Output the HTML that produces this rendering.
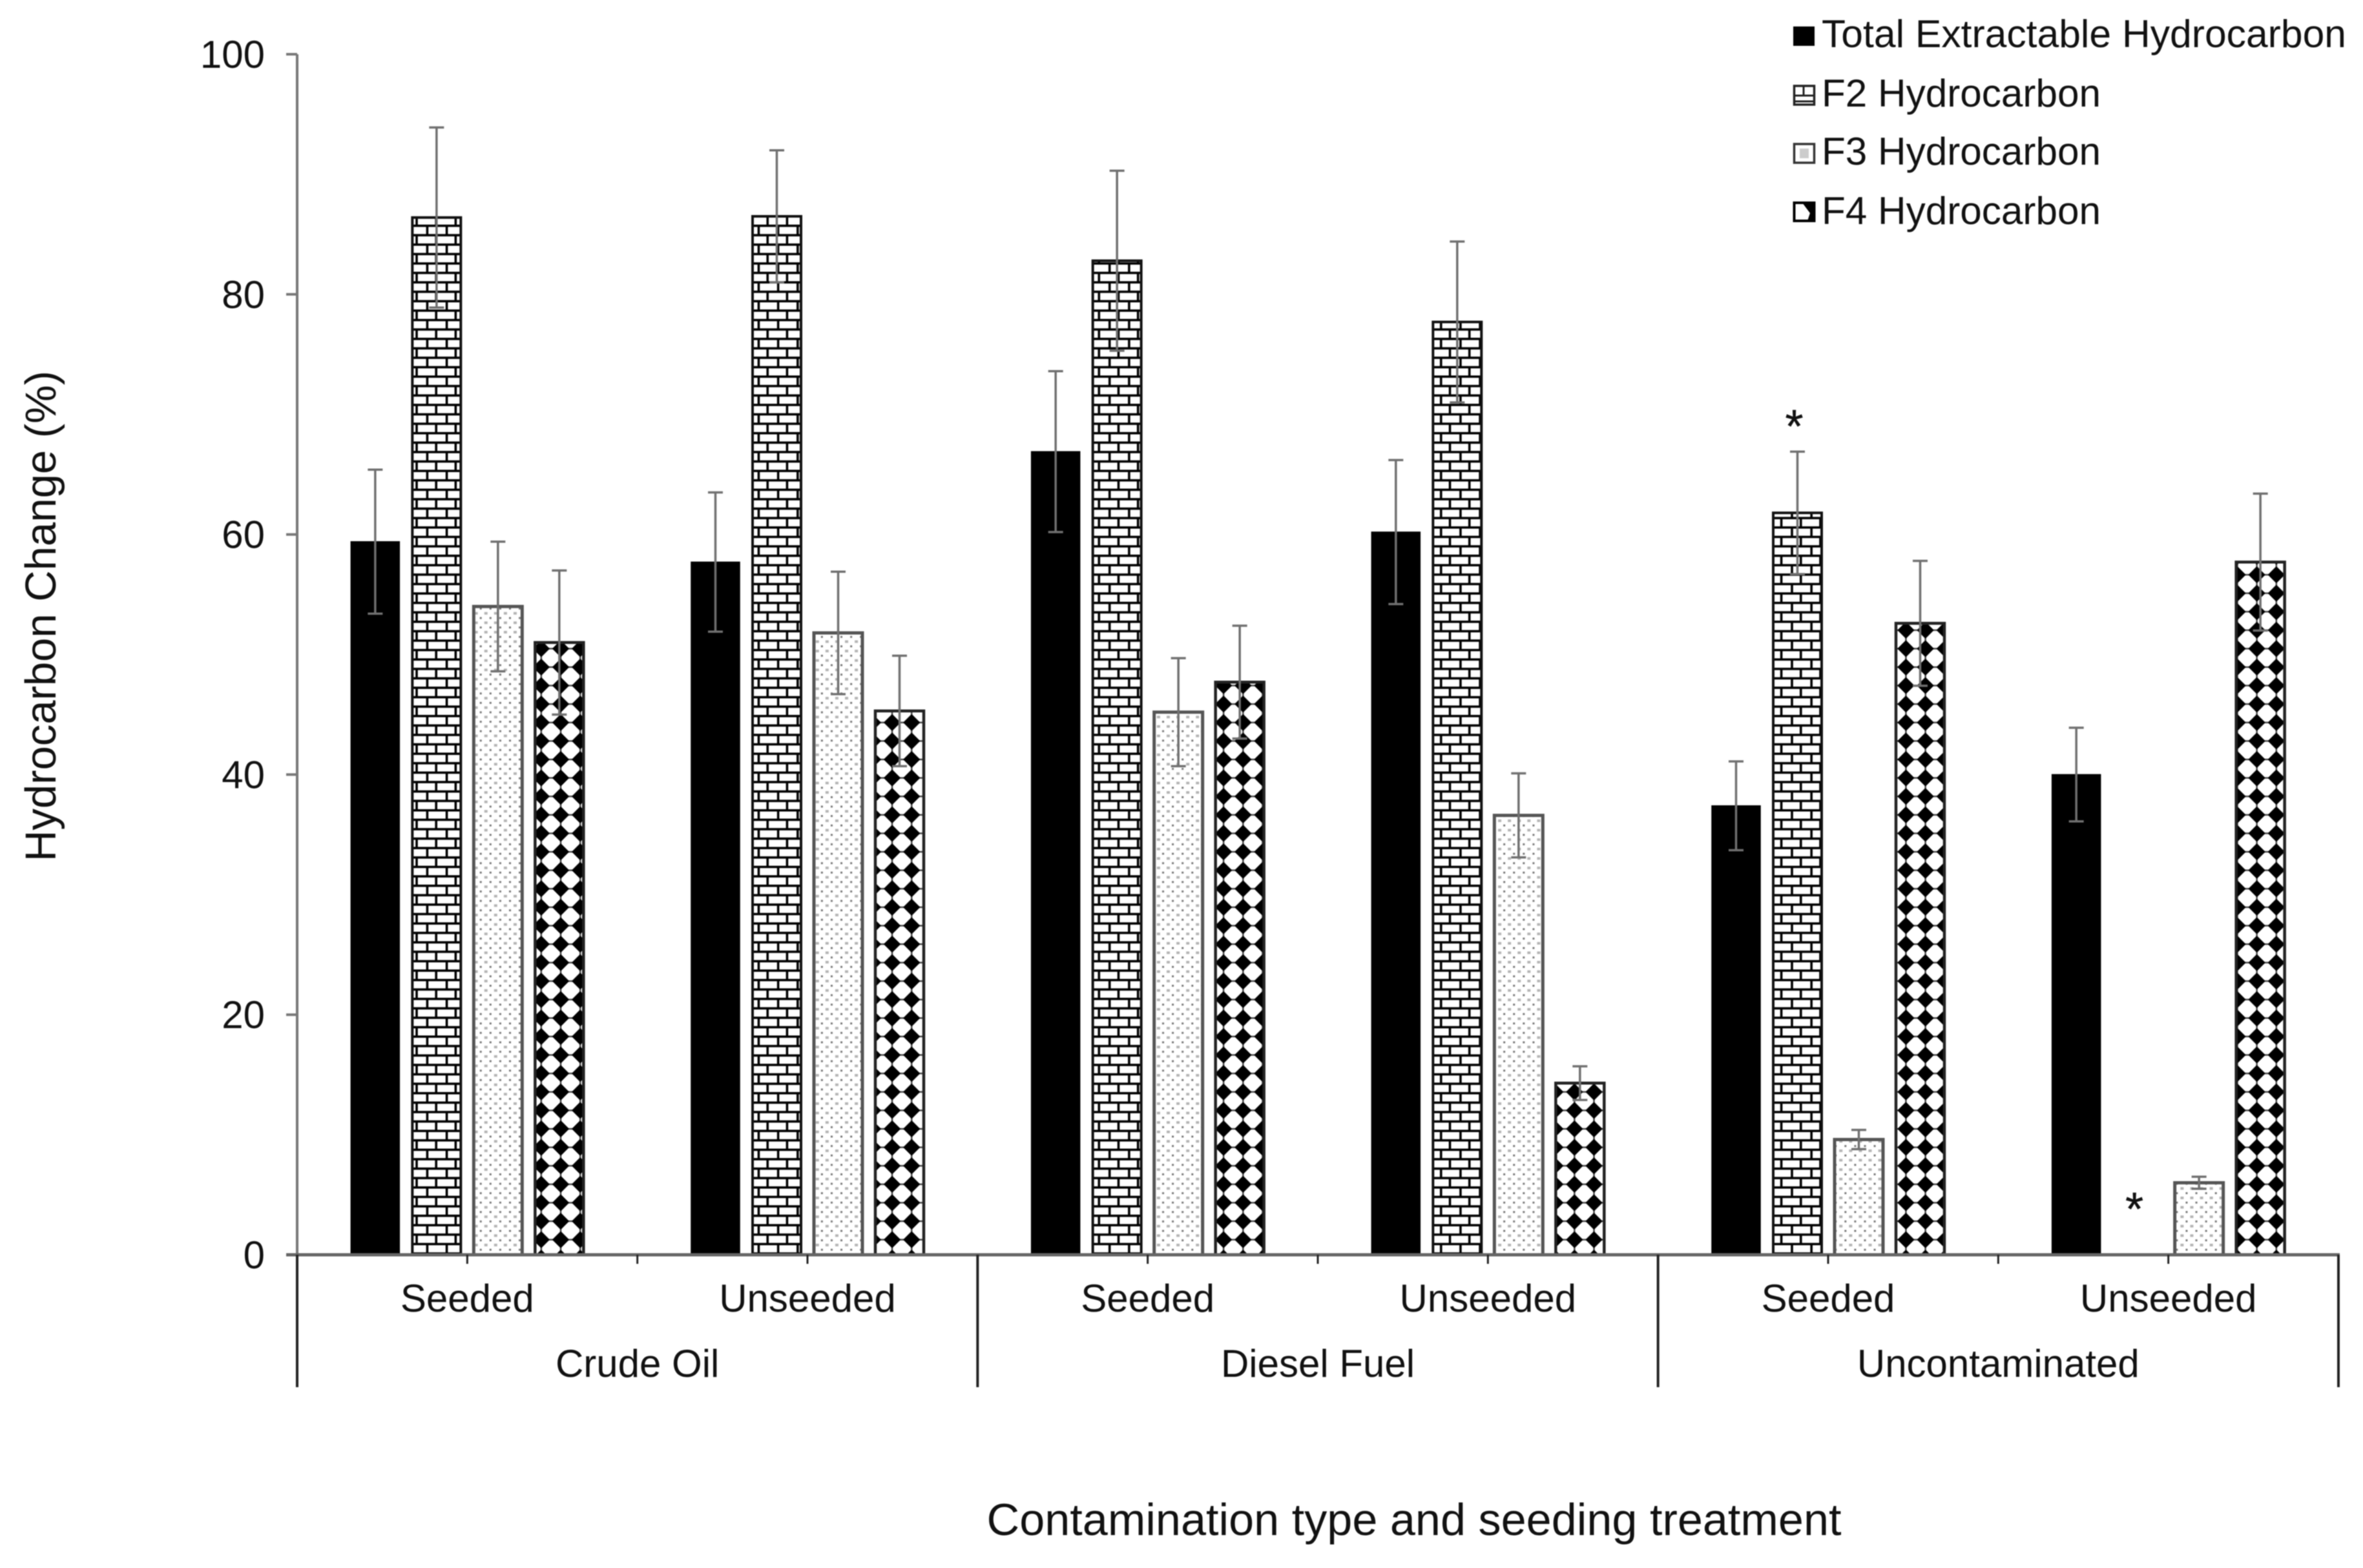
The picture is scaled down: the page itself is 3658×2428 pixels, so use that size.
<!DOCTYPE html>
<html lang="en">
<head>
<meta charset="utf-8">
<title>Hydrocarbon Change by Contamination Type</title>
<style>
html,body{margin:0;padding:0;background:#fff;}
#chart{display:block;width:3658px;height:2428px;filter:blur(0.9px);}
text{font-family:"Liberation Sans",sans-serif;fill:#111;}
</style>
</head>
<body>
<svg id="chart" xmlns="http://www.w3.org/2000/svg" width="3658" height="2428" viewBox="0 0 3658 2428">
  <defs>
    <pattern id="pat-brick" patternUnits="userSpaceOnUse" width="30.18" height="29.2" patternTransform="translate(645 1941)">
      <rect width="30.18" height="29.2" fill="#fff"/>
      <rect x="0" y="-1.8" width="30.18" height="3.6" fill="#000"/>
      <rect x="0" y="12.8" width="30.18" height="3.6" fill="#000"/>
      <rect x="0" y="27.4" width="30.18" height="3.6" fill="#000"/>
      <rect x="-1.8" y="0" width="3.6" height="14.6" fill="#000"/>
      <rect x="28.38" y="0" width="3.6" height="14.6" fill="#000"/>
      <rect x="14.6" y="14.6" width="3.6" height="14.6" fill="#000"/>
    </pattern>
    <pattern id="pat-dots" patternUnits="userSpaceOnUse" width="30.18" height="29.2" patternTransform="translate(759.3 1030)">
      <rect width="30.18" height="29.2" fill="#fff"/>
      <g fill="#777">
        <rect x="-1.5" y="-1.5" width="3" height="3"/><rect x="28.68" y="-1.5" width="3" height="3"/><rect x="13.6" y="-1.5" width="3" height="3"/>
        <rect x="-1.5" y="27.7" width="3" height="3"/><rect x="28.68" y="27.7" width="3" height="3"/><rect x="13.6" y="27.7" width="3" height="3"/>
        <rect x="-1.5" y="13.1" width="3" height="3"/><rect x="28.68" y="13.1" width="3" height="3"/><rect x="13.6" y="13.1" width="3" height="3"/>
      </g>
      <g fill="#b4b4b4">
        <rect x="5.5" y="5.3" width="5" height="4"/><rect x="20.6" y="5.3" width="5" height="4"/>
        <rect x="5.5" y="19.9" width="5" height="4"/><rect x="20.6" y="19.9" width="5" height="4"/>
      </g>
    </pattern>
    <pattern id="pat-diamond" patternUnits="userSpaceOnUse" width="30.18" height="28.6" patternTransform="translate(868 1033)">
      <rect width="30.18" height="28.6" fill="#fff"/>
      <g fill="#444">
        <rect x="0" y="-1.2" width="30.18" height="2.4"/>
        <rect x="0" y="27.4" width="30.18" height="2.4"/>
        <rect x="-1.2" y="0" width="2.4" height="28.6"/>
        <rect x="28.98" y="0" width="2.4" height="28.6"/>
      </g>
      <g fill="#000">
        <polygon points="0,-13.2 13.2,0 0,13.2 -13.2,0"/>
        <polygon points="30.18,-13.2 43.38,0 30.18,13.2 16.98,0"/>
        <polygon points="0,15.4 13.2,28.6 0,41.8 -13.2,28.6"/>
        <polygon points="30.18,15.4 43.38,28.6 30.18,41.8 16.98,28.6"/>
      </g>
    </pattern>
  </defs>

  <g id="bars"></g>
  <g id="errors"></g>
  <g id="axes"></g>
  <g id="stars"></g>

  <text x="86" y="954" font-size="67" text-anchor="middle" textLength="760" lengthAdjust="spacingAndGlyphs" transform="rotate(-90 86 954)">Hydrocarbon Change (%)</text>
  <text x="2189" y="2377" font-size="70" text-anchor="middle" textLength="1323" lengthAdjust="spacingAndGlyphs">Contamination type and seeding treatment</text>

  <g>
    <g>
      <rect x="2776" y="41" width="33" height="30" fill="#000"/>
      <text x="2820" y="73" font-size="60" textLength="812" lengthAdjust="spacingAndGlyphs">Total Extractable Hydrocarbon</text>
    </g>
    <g>
      <g>
        <rect x="2777.5" y="133" width="31" height="29" fill="#fff" stroke="#222" stroke-width="3.5"/>
        <path d="M2777 148H2809M2777 157H2809M2792 133V148" stroke="#222" stroke-width="3" fill="none"/>
      </g>
      <text x="2820" y="165" font-size="60" textLength="432" lengthAdjust="spacingAndGlyphs">F2 Hydrocarbon</text>
    </g>
    <g>
      <g>
        <rect x="2777.5" y="223" width="31" height="29" fill="#fff" stroke="#333" stroke-width="3.5"/>
        <rect x="2786" y="230" width="14" height="15" fill="#ccc"/>
      </g>
      <text x="2820" y="255" font-size="60" textLength="432" lengthAdjust="spacingAndGlyphs">F3 Hydrocarbon</text>
    </g>
    <g>
      <g>
        <rect x="2777.5" y="314" width="31" height="28" fill="#fff" stroke="#000" stroke-width="4"/>
        <polygon points="2790,314 2809,314 2809,342 2798,342 2802,330" fill="#000"/>
      </g>
      <text x="2820" y="347" font-size="60" textLength="432" lengthAdjust="spacingAndGlyphs">F4 Hydrocarbon</text>
    </g>
  </g>
</svg>
<script>
// ---- chart data ----
const treatments = ["Seeded", "Unseeded", "Seeded", "Unseeded", "Seeded", "Unseeded"];
const contaminants = ["Crude Oil", "Diesel Fuel", "Uncontaminated"];
const yTicks = [0, 20, 40, 60, 80, 100];
const totalValues = [59.4, 57.7, 66.9, 60.2, 37.4, 40.0];
const f2Values = [86.4, 86.5, 82.8, 77.7, 61.8, null];
const f3Values = [54.0, 51.8, 45.2, 36.6, 9.6, 6.0];
const f4Values = [51.0, 45.3, 47.7, 14.3, 52.6, 57.7];
const totalErrors = [6.0, 5.8, 6.7, 6.0, 3.7, 3.9];
const f2Errors = [7.5, 5.5, 7.5, 6.7, 5.1, null];
const f3Errors = [5.4, 5.1, 4.5, 3.5, 0.8, 0.5];
const f4Errors = [6.0, 4.6, 4.7, 1.4, 5.2, 5.7];
const starCategories = [4, 5];
const starValues = [69.6, 4.4];

const NS = "http://www.w3.org/2000/svg";
const AXIS_LEFT = 460, AXIS_RIGHT = 3620, BASE_Y = 1943, TOP_Y = 84;
const Y_MAX = 100;
const CAT_W = (AXIS_RIGHT - AXIS_LEFT) / treatments.length;
const BAR_W = 75, BAR_STEP = 95;

function yScale(v) { return BASE_Y - (v / Y_MAX) * (BASE_Y - TOP_Y); }
function catLeft(i) { return AXIS_LEFT + i * CAT_W; }
function barCenter(i, s) { return catLeft(i) + CAT_W / 2 + (s - 1.5) * BAR_STEP; }
function mk(tag, attrs, parent) {
  const el = document.createElementNS(NS, tag);
  for (const k in attrs) el.setAttribute(k, attrs[k]);
  parent.appendChild(el);
  return el;
}

const seriesValues = [totalValues, f2Values, f3Values, f4Values];
const seriesErrors = [totalErrors, f2Errors, f3Errors, f4Errors];
const seriesKeys = ["total", "f2", "f3", "f4"];
const seriesFills = ["#000", "url(#pat-brick)", "url(#pat-dots)", "url(#pat-diamond)"];
const seriesStrokes = ["#000", "#111", "#555", "#222"];
const seriesStrokeW = [1.5, 4, 5, 4.5];

const barsG = document.getElementById("bars");
const errG = document.getElementById("errors");
const axesG = document.getElementById("axes");
const starsG = document.getElementById("stars");

seriesValues.forEach(function (vals, s) {
  vals.forEach(function (v, i) {
    if (v === null) return;
    const cx = barCenter(i, s);
    const y = yScale(v);
    const bar = mk("rect", { x: cx - BAR_W / 2, y: y, width: BAR_W, height: BASE_Y - y, fill: seriesFills[s], stroke: seriesStrokes[s], "stroke-width": seriesStrokeW[s] }, barsG);
    
    

    const e = seriesErrors[s][i];
    if (e === null) return;
    const eb = mk("path", {
      d: "M" + cx + " " + yScale(v + e) + "V" + yScale(v - e) +
         "M" + (cx - 11.5) + " " + yScale(v + e) + "H" + (cx + 11.5) +
         "M" + (cx - 11.5) + " " + yScale(v - e) + "H" + (cx + 11.5),
      stroke: "#707070", "stroke-width": 3.5, fill: "none"
    }, errG);
    
    
  });
});

// y axis
const yLine = mk("line", { x1: AXIS_LEFT, x2: AXIS_LEFT, y1: TOP_Y, y2: BASE_Y, stroke: "#777", "stroke-width": 4 }, axesG);



yTicks.forEach(function (t) {
  const y = yScale(t);
  const tick = mk("line", { x1: AXIS_LEFT - 17, x2: AXIS_LEFT, y1: y, y2: y, stroke: "#777", "stroke-width": 4 }, axesG);
  
  
  const lab = mk("text", { x: 410, y: y + 21, "font-size": 60, "text-anchor": "end" }, axesG);
  lab.textContent = String(t);
  
  
});

// x axis
const xLine = mk("line", { x1: AXIS_LEFT - 17, x2: AXIS_RIGHT + 2, y1: BASE_Y, y2: BASE_Y, stroke: "#666", "stroke-width": 5 }, axesG);



treatments.forEach(function (name, i) {
  const cx = catLeft(i) + CAT_W / 2;
  const t1 = mk("line", { x1: cx, x2: cx, y1: BASE_Y, y2: BASE_Y + 14, stroke: "#222", "stroke-width": 3 }, axesG);
  
  
  if (i % 2 === 1) {
    const edge = catLeft(i);
    const t2 = mk("line", { x1: edge, x2: edge, y1: BASE_Y, y2: BASE_Y + 14, stroke: "#222", "stroke-width": 3 }, axesG);
    
    
  }
  const lab = mk("text", { x: cx, y: 2031, "font-size": 60, "text-anchor": "middle" }, axesG);
  lab.textContent = name;
  
  
});

contaminants.forEach(function (name, i) {
  const left = catLeft(i * 2);
  const cx = left + CAT_W;
  const lab = mk("text", { x: cx, y: 2132, "font-size": 60, "text-anchor": "middle" }, axesG);
  lab.textContent = name;
  
  
});

for (let i = 0; i <= contaminants.length; i++) {
  const x = catLeft(i * 2);
  const div = mk("line", { x1: x, x2: x, y1: BASE_Y, y2: 2148, stroke: "#222", "stroke-width": 4 }, axesG);
  
  
}

// asterisks above the F2 positions
starCategories.forEach(function (c, i) {
  const star = mk("text", { x: barCenter(c, 1) - 5, y: yScale(starValues[i]) + 36, "font-size": 72, "text-anchor": "middle", stroke: "#111", "stroke-width": 0.5 }, starsG);
  star.textContent = "*";
  
  
});
</script>
</body>
</html>
